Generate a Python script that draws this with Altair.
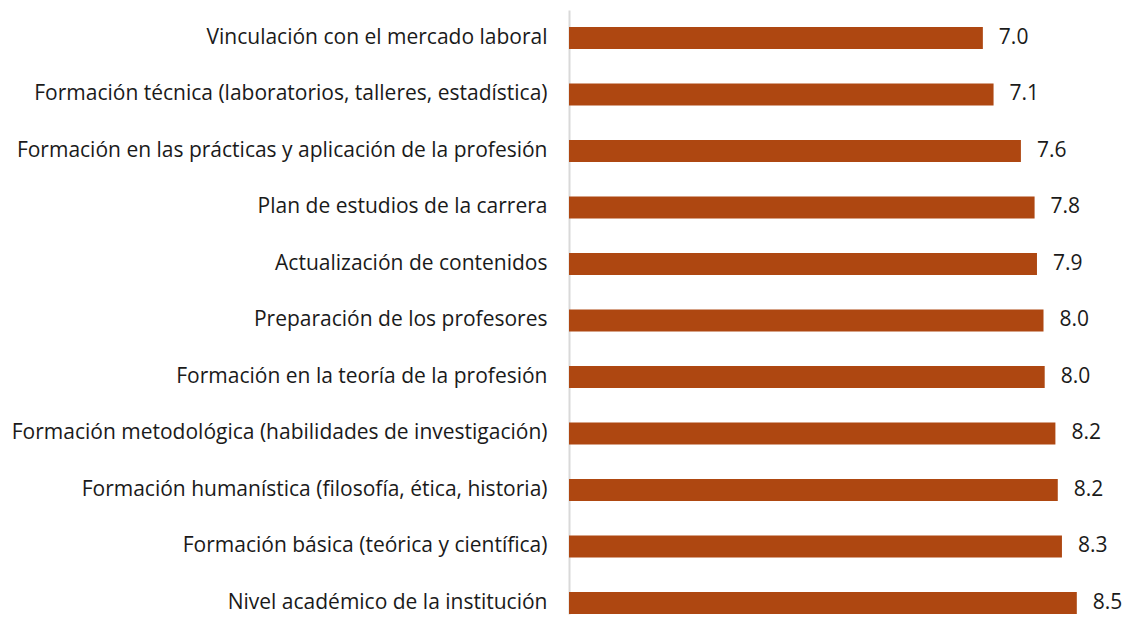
import altair as alt
import pandas as pd

categories = [
    "Vinculación con el mercado laboral",
    "Formación técnica (laboratorios, talleres, estadística)",
    "Formación en las prácticas y aplicación de la profesión",
    "Plan de estudios de la carrera",
    "Actualización de contenidos",
    "Preparación de los profesores",
    "Formación en la teoría de la profesión",
    "Formación metodológica (habilidades de investigación)",
    "Formación humanística (filosofía, ética, historia)",
    "Formación básica (teórica y científica)",
    "Nivel académico de la institución",
]
values = [6.96, 7.14, 7.60, 7.83, 7.87, 7.98, 8.00, 8.18, 8.22, 8.29, 8.54]

df = pd.DataFrame({"categoria": categories, "valor": values})

FONT = "Open Sans"
BAR = "#AE4711"
FS = 21

y_enc = alt.Y(
    "categoria:N",
    sort=categories,
    title=None,
    scale=alt.Scale(paddingInner=0.61, paddingOuter=0.15, align=1),
    axis=alt.Axis(
        ticks=False,
        domain=True,
        domainColor="#d9d9d9",
        domainWidth=2,
        labelFont=FONT,
        labelFontSize=FS,
        labelColor="#1a1a1a",
        labelPadding=22,
        labelLimit=0,
        grid=False,
    ),
)
x_enc = alt.X("valor:Q", scale=alt.Scale(domain=[0, 9.3], nice=False, zero=True), axis=None)

base = alt.Chart(df)
bars = base.mark_bar(color=BAR).encode(y=y_enc, x=x_enc)
labels = base.mark_text(
    align="left", baseline="middle", dx=16, font=FONT, fontSize=FS, color="#1a1a1a"
).encode(y=y_enc, x=x_enc, text=alt.Text("valor:Q", format=".1f"))

chart = (
    alt.layer(bars, labels)
    .properties(
        width=553,
        height=604,
        autosize=alt.AutoSizeParams(type="none"),
        padding={"left": 561, "top": 2, "right": 0, "bottom": 4},
        background="white",
    )
    .configure_view(stroke=None)
)

chart.save("out.html", embed_options={"renderer": "svg", "actions": False})
